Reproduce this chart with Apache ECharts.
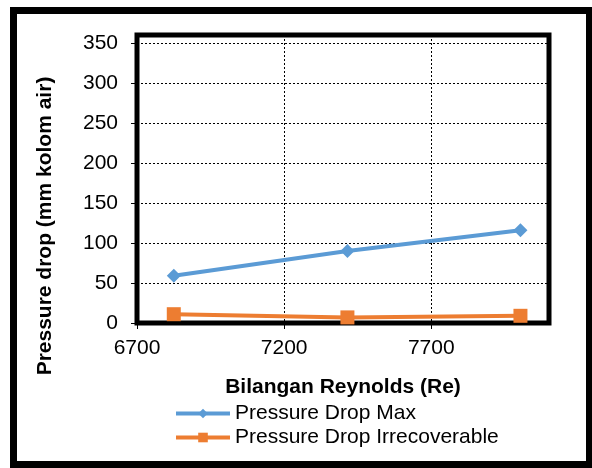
<!DOCTYPE html>
<html>
<head>
<meta charset="utf-8">
<script src="https://cdn.jsdelivr.net/npm/echarts@6/dist/echarts.min.js"></script>
<style>
  html, body { margin: 0; padding: 0; background: #fff; }
  #chart { width: 592px; height: 468px; }
</style>
</head>
<body>
<div id="chart"></div>
<script>
// Reynolds numbers of the three runs
const reynolds = [6825, 7415, 8003];
// Pressure drop readings (mm kolom air)
const dropMax = [59, 90, 116];
const dropIrrecoverable = [11, 7, 9];
// Axis ticks
const xTicks = [6700, 7200, 7700];
const yTicks = [0, 50, 100, 150, 200, 250, 300, 350];

const FONT = "'Liberation Sans', Arial, sans-serif";
const FS = 21;

const chart = echarts.init(document.getElementById('chart'), null, { renderer: 'canvas' });

const pairs = (ys) => reynolds.map((x, i) => [x, ys[i]]);

chart.setOption({
  animation: false,
  backgroundColor: '#fff',
  textStyle: { fontFamily: FONT },
  grid: {
    left: 137, top: 35, right: 43, bottom: 145,
    show: true, borderColor: '#000', borderWidth: 5, backgroundColor: 'transparent'
  },
  xAxis: {
    type: 'value',
    min: 6700, max: 8100, interval: 500,
    name: 'Bilangan Reynolds (Re)',
    nameLocation: 'middle',
    nameGap: 54,
    nameTextStyle: { fontFamily: FONT, fontSize: FS, fontWeight: 'bold', color: '#000' },
    axisLine: { show: false },
    axisTick: { show: true, length: 6, inside: false, customValues: xTicks, lineStyle: { color: '#000', width: 1 } },
    axisLabel: { customValues: xTicks, margin: 15, fontFamily: FONT, fontSize: FS, color: '#000', formatter: (v) => String(v) },
    splitLine: { show: true, lineStyle: { color: '#000', width: 1, type: [2, 2] } }
  },
  yAxis: {
    type: 'value',
    min: 0, max: 360, interval: 50,
    axisLine: { show: false },
    axisTick: { show: true, length: 6, inside: false, customValues: yTicks, lineStyle: { color: '#000', width: 1 } },
    axisLabel: { customValues: yTicks, margin: 19, fontFamily: FONT, fontSize: FS, color: '#000', formatter: (v) => String(v) },
    splitLine: { show: true, lineStyle: { color: '#000', width: 1, type: [2, 2] } }
  },
  legend: {
    orient: 'vertical',
    left: 174, top: 403,
    padding: 0,
    itemWidth: 54, itemHeight: 12, itemGap: 3,
    lineStyle: { width: 4 },
    textStyle: { fontFamily: FONT, fontSize: FS, color: '#000' },
    data: ['Pressure Drop Max', 'Pressure Drop Irrecoverable']
  },
  series: [
    {
      name: 'Pressure Drop Max',
      type: 'line',
      data: pairs(dropMax),
      symbol: 'diamond', symbolSize: 14,
      lineStyle: { color: '#5B9BD5', width: 4 },
      itemStyle: { color: '#5B9BD5' },
      z: 3
    },
    {
      name: 'Pressure Drop Irrecoverable',
      type: 'line',
      data: pairs(dropIrrecoverable),
      symbol: 'rect', symbolSize: 14,
      lineStyle: { color: '#ED7D31', width: 4 },
      itemStyle: { color: '#ED7D31' },
      z: 3
    }
  ],
  graphic: [
    {
      type: 'text',
      x: 45, y: 226,
      rotation: Math.PI / 2,
      style: {
        text: 'Pressure drop (mm kolom air)',
        font: "bold " + FS + "px " + FONT,
        fill: '#000',
        align: 'center', verticalAlign: 'middle'
      }
    },
    {
      type: 'rect',
      shape: { x: 13.5, y: 10.5, width: 576, height: 454 },
      style: { fill: 'none', stroke: '#000', lineWidth: 7 },
      silent: true
    }
  ]
});
</script>
</body>
</html>
